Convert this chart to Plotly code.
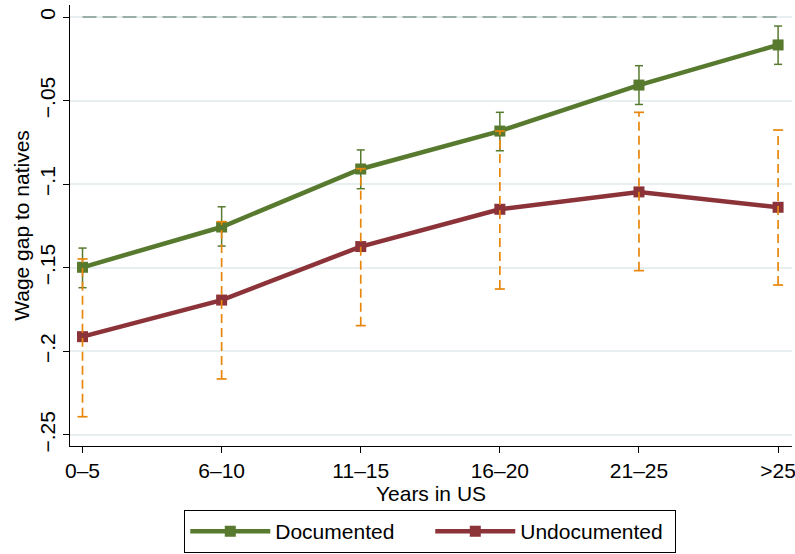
import plotly.graph_objects as go

# Years-in-US groups
categories = ["0–5", "6–10", "11–15", "16–20", "21–25", ">25"]

# Wage gap relative to natives, with 95% confidence bounds
documented = [-0.1497, -0.1256, -0.0909, -0.0682, -0.0407, -0.0167]
documented_hi = [-0.1382, -0.1135, -0.0795, -0.0570, -0.0291, -0.0054]
documented_lo = [-0.1619, -0.1370, -0.1027, -0.0800, -0.0523, -0.0283]

undocumented = [-0.1912, -0.1693, -0.1373, -0.1150, -0.1046, -0.1138]
undocumented_hi = [-0.1447, -0.1224, -0.0907, -0.0682, -0.0570, -0.0676]
undocumented_lo = [-0.2391, -0.2165, -0.1846, -0.1627, -0.1517, -0.1603]

y_ticks = [0, -0.05, -0.1, -0.15, -0.2, -0.25]
y_tick_labels = ["0", "−.05", "−.1", "−.15", "−.2", "−.25"]

GREEN = "#577a2f"
RED = "#8c3339"
ORANGE = "#e8870c"
FONT = "Liberation Sans, Arial, sans-serif"
FS = 21

x = list(range(len(categories)))


def whiskers(lo, hi):
    xs, ys = [], []
    for i, (a, b) in enumerate(zip(lo, hi)):
        xs += [i, i, None]
        ys += [a, b, None]
    return xs, ys


def caps(lo, hi, half):
    xs, ys = [], []
    for i, (a, b) in enumerate(zip(lo, hi)):
        for v in (a, b):
            xs += [i - half, i + half, None]
            ys += [v, v, None]
    return xs, ys


fig = go.Figure()

# reference line at zero
fig.add_trace(go.Scatter(
    x=[x[0], x[-1]], y=[0, 0], mode="lines",
    line=dict(color="#7f9a8c", width=1.6, dash="14px,6px"),
    showlegend=False, hoverinfo="skip"))

fig.add_trace(go.Scatter(
    x=x, y=documented, mode="lines+markers", name="Documented",
    line=dict(color=GREEN, width=4.5),
    marker=dict(symbol="square", size=11, color=GREEN)))

fig.add_trace(go.Scatter(
    x=x, y=undocumented, mode="lines+markers", name="Undocumented",
    line=dict(color=RED, width=4.5),
    marker=dict(symbol="square", size=11, color=RED)))

# documented confidence intervals (solid)
wx, wy = whiskers(documented_lo, documented_hi)
fig.add_trace(go.Scatter(x=wx, y=wy, mode="lines",
                         line=dict(color=GREEN, width=1.5),
                         showlegend=False, hoverinfo="skip"))
cx, cy = caps(documented_lo, documented_hi, 0.029)
fig.add_trace(go.Scatter(x=cx, y=cy, mode="lines",
                         line=dict(color=GREEN, width=1.5),
                         showlegend=False, hoverinfo="skip"))

# undocumented confidence intervals (dashed)
wx, wy = whiskers(undocumented_lo, undocumented_hi)
fig.add_trace(go.Scatter(x=wx, y=wy, mode="lines",
                         line=dict(color=ORANGE, width=1.7, dash="9px,5px"),
                         showlegend=False, hoverinfo="skip"))
cx, cy = caps(undocumented_lo, undocumented_hi, 0.036)
fig.add_trace(go.Scatter(x=cx, y=cy, mode="lines",
                         line=dict(color=ORANGE, width=1.7),
                         showlegend=False, hoverinfo="skip"))

fig.update_layout(
    width=795, height=554,
    margin=dict(l=70, r=3, t=5, b=108, autoexpand=False),
    paper_bgcolor="white", plot_bgcolor="white",
    font=dict(family=FONT, size=FS, color="black"),
    xaxis=dict(
        range=[-0.09, 5.1], tickvals=x, ticktext=categories,
        showgrid=False, zeroline=False, automargin=False,
        ticklabeloverflow="allow",
        showline=True, linecolor="black", linewidth=1.2,
        ticks="outside", ticklen=6, tickcolor="black",
        tickfont=dict(size=FS),
        title=dict(text="Years in US", font=dict(size=FS), standoff=2)),
    yaxis=dict(
        range=[-0.2566, 0.0072], tickvals=y_ticks, ticktext=y_tick_labels,
        tickangle=-90, automargin=False,
        showgrid=True, gridcolor="#e8eff1", gridwidth=1.5, zeroline=False,
        showline=True, linecolor="black", linewidth=1.2,
        ticks="outside", ticklen=6, tickcolor="black",
        tickfont=dict(size=FS),
        title=dict(text="Wage gap to natives", font=dict(size=FS), standoff=0)),
    legend=dict(
        orientation="h", x=0.499, xanchor="center",
        yref="container", y=1 / 554, yanchor="bottom",
        bordercolor="black", borderwidth=1, bgcolor="white",
        font=dict(size=FS), itemwidth=80, entrywidth=150),
)

fig.write_html("out.html")
